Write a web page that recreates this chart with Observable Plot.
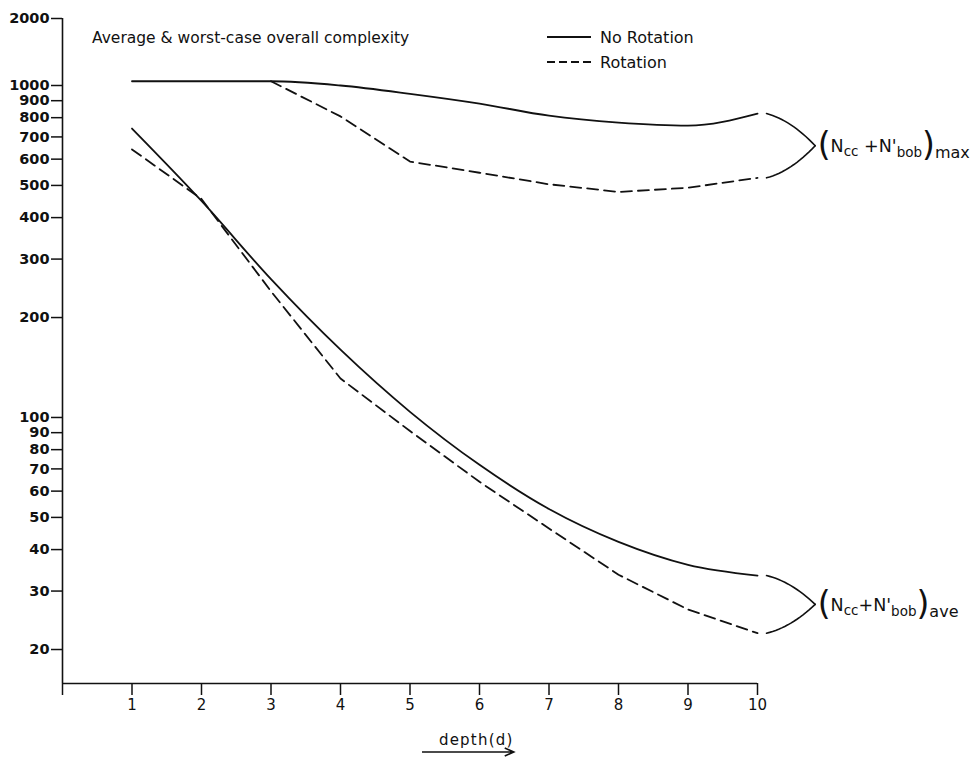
<!DOCTYPE html>
<html>
<head>
<meta charset="utf-8">
<script src="https://cdn.jsdelivr.net/npm/d3@7"></script>
<script src="https://cdn.jsdelivr.net/npm/@observablehq/plot@0.6"></script>
<style>
  html, body { margin: 0; padding: 0; background: #fff; }
  #chart svg { display: block; }
</style>
</head>
<body>
<div id="chart"></div>
<script>
// Overall complexity (N_cc + N'_bob) versus tree depth d
const depth = [1, 2, 3, 4, 5, 6, 7, 8, 9, 10];

// worst case (max)
const maxNoRotation = [1045, 1045, 1045, 1000, 944, 882, 811, 773, 757, 823];
const maxRotation   = [null, null, 1045, 807, 590, 546, 504, 478, 492, 527];

// average case (ave)
const aveNoRotation = [742, 449, 261, 160, 104, 72, 53, 42.2, 36, 33.4];
const aveRotation   = [642, 455, 240, 131, 91, 64, 46.3, 33.6, 26.4, 22.4];

const seriesNames = ["No Rotation", "Rotation"];
const statNames = ["max", "ave"];
const yTicks = [20, 30, 40, 50, 60, 70, 80, 90, 100, 200, 300, 400, 500, 600, 700, 800, 900, 1000, 2000];
const xTicks = [0, 1, 2, 3, 4, 5, 6, 7, 8, 9, 10];

const titleText = "Average & worst-case overall complexity";
const xLabel = "depth(d)";

// ---- tidy rows ----
const rows = [];
function addSeries(values, series, stat) {
  values.forEach((v, i) => { if (v != null) rows.push({depth: depth[i], value: v, series, stat}); });
}
addSeries(maxNoRotation, seriesNames[0], statNames[0]);
addSeries(maxRotation, seriesNames[1], statNames[0]);
addSeries(aveNoRotation, seriesNames[0], statNames[1]);
addSeries(aveRotation, seriesNames[1], statNames[1]);

const solidRows = rows.filter(d => d.series === seriesNames[0]);
const dashedRows = rows.filter(d => d.series === seriesNames[1]);

// ---- bracket arms joining each pair of curve ends to its label ----
const armStart = 10.13, tipX = 10.83;
const groups = [
  {stat: "max", ends: [maxNoRotation.at(-1), maxRotation.at(-1)]},
  {stat: "ave", ends: [aveNoRotation.at(-1), aveRotation.at(-1)]}
];
const arms = [];
groups.forEach(g => {
  g.tip = Math.sqrt(g.ends[0] * g.ends[1]);
  g.ends.forEach((v, k) => {
    const l0 = Math.log10(v), l1 = Math.log10(g.tip);
    const cx = armStart + 0.5 * (tipX - armStart), cl = l0 + 0.2 * (l1 - l0);
    for (let i = 0; i <= 16; i++) {
      const t = i / 16, u = 1 - t;
      arms.push({
        arm: g.stat + k,
        x: u * u * armStart + 2 * t * u * cx + t * t * tipX,
        y: Math.pow(10, u * u * l0 + 2 * t * u * cl + t * t * l1)
      });
    }
  });
});

const W = 980, H = 759;
const mTop = 18, mBottom = 76, mLeft = 62, mRight = 223;
const yMin = 15.8;
const font = "DejaVu Sans";
const ink = "#111";

const plot = Plot.plot({
  width: W,
  height: H,
  marginTop: mTop,
  marginBottom: mBottom,
  marginLeft: mLeft,
  marginRight: mRight,
  style: {fontFamily: font, color: ink, background: "#fff", overflow: "visible"},
  x: {domain: [0, 10]},
  // log axis, with the decade above 1000 drawn compressed
  y: {type: "log", domain: [yMin, 1000, 2000], range: [H - mBottom, 85, mTop]},
  marks: [
    Plot.ruleX([0], {stroke: ink, strokeWidth: 1.6}),
    Plot.ruleY([yMin], {stroke: ink, strokeWidth: 1.6}),
    Plot.axisY({ticks: yTicks, tickSize: 11, label: null, strokeWidth: 1.5}),
    Plot.text(yTicks, {
      x: 0, y: d => d, text: d => String(d), textAnchor: "end", dx: -13,
      fontSize: 14.5, fontWeight: "bold", fill: ink
    }),
    Plot.axisX({
      ticks: xTicks, tickSize: 12, tickPadding: 4, tickFormat: d => (d === 0 ? "" : String(d)),
      label: null, fontSize: 15, strokeWidth: 1.5
    }),
    Plot.line(solidRows, {x: "depth", y: "value", z: "stat", stroke: ink, strokeWidth: 1.8, curve: "monotone-x"}),
    Plot.line(dashedRows, {x: "depth", y: "value", z: "stat", stroke: ink, strokeWidth: 1.8, strokeDasharray: "11,6", curve: "linear"}),
    Plot.line(arms, {x: "x", y: "y", z: "arm", stroke: ink, strokeWidth: 1.6})
  ]
});

document.getElementById("chart").appendChild(plot);

const svg = d3.select(plot);
const sx = plot.scale("x"), sy = plot.scale("y");

// the log axis draws its own (filtered) labels; the full set comes from the text mark above
svg.selectAll("g[aria-label='y-axis tick label']").remove();

// title
svg.append("text")
  .attr("x", 92).attr("y", 43).attr("text-anchor", "start")
  .attr("font-family", font).attr("font-size", 15.5).attr("fill", ink)
  .text(titleText);

// legend
const legend = svg.append("g")
  .attr("font-family", font).attr("font-size", 16).attr("fill", ink).attr("text-anchor", "start");
[[seriesNames[0], null, 37], [seriesNames[1], "8,4", 62]].forEach(([name, dash, y]) => {
  legend.append("line")
    .attr("x1", 547).attr("x2", 591).attr("y1", y).attr("y2", y)
    .attr("stroke", ink).attr("stroke-width", 1.8)
    .attr("stroke-dasharray", dash);
  legend.append("text").attr("x", 600).attr("y", y + 6).text(name);
});

// x axis title with arrow
const lx = sx.apply(5.96);
svg.append("text")
  .attr("x", lx).attr("y", 745).attr("text-anchor", "middle")
  .attr("font-family", font).attr("font-size", 15).attr("letter-spacing", 1.2).attr("fill", ink)
  .text(xLabel);
const ax0 = sx.apply(5.18), ax1 = sx.apply(6.5);
svg.append("path")
  .attr("d", `M${ax0},752H${ax1}M${ax1 - 9},748L${ax1},752L${ax1 - 9},756`)
  .attr("fill", "none").attr("stroke", ink).attr("stroke-width", 1.6);

// bracket labels (N_cc + N'_bob)_stat
groups.forEach(g => {
  const x = sx.apply(tipX) + 3, y = sy.apply(g.tip);
  const t = svg.append("text").attr("x", x).attr("text-anchor", "start")
    .attr("font-family", font).attr("fill", ink);
  const part = (s, size, dy) => t.append("tspan").attr("y", y + dy).attr("font-size", size).text(s);
  part("(", 33, 11);
  part("N", 17.5, 7);
  part("cc", 13.5, 11);
  part(g.stat === "max" ? " +N'" : "+N'", 17.5, 7);
  part("bob", 13.5, 12);
  part(")", 33, 11);
  part(g.stat, 16, 13);
});
</script>
</body>
</html>
